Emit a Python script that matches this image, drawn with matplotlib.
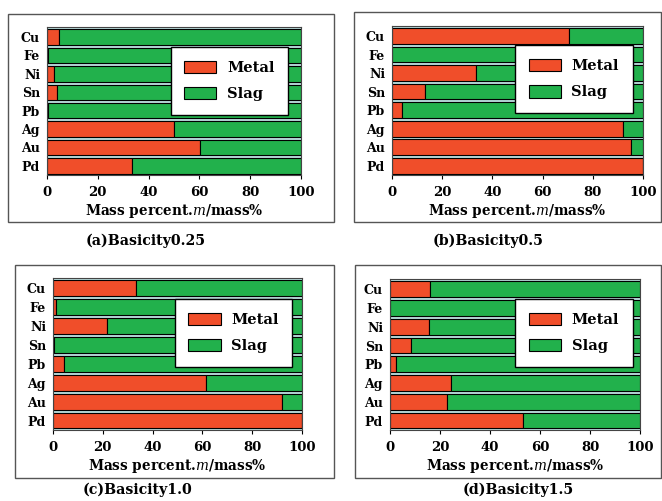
import matplotlib
matplotlib.use("Agg")
import matplotlib.pyplot as plt
from matplotlib.patches import Rectangle

plt.rcParams["font.family"] = "DejaVu Serif"
plt.rcParams["mathtext.fontset"] = "dejavuserif"

ELEMENTS = ["Cu", "Fe", "Ni", "Sn", "Pb", "Ag", "Au", "Pd"]

# metal fraction (mass%) per element, slag = 100 - metal
metal_025 = [4.6, 0.3, 2.9, 3.8, 0.3, 50.1, 60.1, 33.5]
metal_05 = [70.7, 0.0, 33.5, 13.2, 4.0, 91.9, 95.2, 100.0]
metal_10 = [33.3, 1.2, 21.6, 0.3, 4.4, 61.3, 92.0, 100.0]
metal_15 = [16.0, 0.0, 15.6, 8.4, 2.3, 24.4, 22.7, 53.1]

CAPTIONS = ["(a)Basicity0.25", "(b)Basicity0.5", "(c)Basicity1.0", "(d)Basicity1.5"]
X_TICKS = [0, 20, 40, 60, 80, 100]

RED = "#f04e2a"
GREEN = "#22b14c"

W, H = 662, 501


def px_rect(x0, y0, x1, y1):
    # pixel box (top-left origin) -> figure fraction [left, bottom, width, height]
    return [x0 / W, 1 - y1 / H, (x1 - x0) / W, (y1 - y0) / H]


panels = [
    # data, axes box, frame box, caption pos, legend corner (axes coords)
    (metal_025, (47, 27, 301, 175), (8, 14, 334, 222), (146, 241), (0.487, 0.865)),
    (metal_05, (392, 26, 643, 175), (354, 12, 661, 222), (488, 241), (0.49, 0.872)),
    (metal_10, (53, 278, 302, 430), (15, 265, 334, 478), (138, 490), (0.489, 0.862)),
    (metal_15, (390, 279, 640, 430), (355, 265, 661, 478), (518, 490), (0.501, 0.868)),
]

fig = plt.figure(figsize=(W / 100, H / 100), dpi=100)
fig.patch.set_facecolor("white")

for (metal, ax_box, frame, cap, leg), caption in zip(panels, CAPTIONS):
    fx0, fy0, fx1, fy1 = frame
    fig.patches.append(Rectangle((fx0 / W, 1 - fy1 / H), (fx1 - fx0) / W, (fy1 - fy0) / H,
                                 transform=fig.transFigure, fill=False,
                                 edgecolor="#555555", linewidth=1.0))

    ax = fig.add_axes(px_rect(*ax_box))
    ax.set_facecolor("#b9dcdc")
    ypos = list(range(len(ELEMENTS)))[::-1]
    slag = [100 - m for m in metal]
    ax.barh(ypos, metal, height=0.84, color=RED, edgecolor="black", linewidth=0.8, label="Metal")
    ax.barh(ypos, slag, left=metal, height=0.84, color=GREEN, edgecolor="black", linewidth=0.8,
            label="Slag")
    ax.set_xlim(0, 100)
    ax.set_ylim(-0.5, 7.55)
    ax.set_yticks(ypos)
    ax.set_yticklabels(ELEMENTS, fontsize=9, fontweight="bold")
    ax.set_xticks(X_TICKS)
    ax.set_xticklabels([str(t) for t in X_TICKS], fontsize=9.5, fontweight="bold")
    ax.tick_params(axis="y", length=0, pad=5)
    ax.tick_params(axis="x", length=3, direction="out", pad=5)
    ax.set_xlabel(r"Mass percent.$\it{m}$/mass%", fontsize=9.8, fontweight="bold", labelpad=2)
    for s in ax.spines.values():
        s.set_color("#444444")
        s.set_linewidth(0.8)

    ax.legend(loc="upper left", bbox_to_anchor=leg, prop={"weight": "bold", "size": 10.5},
              fancybox=False, framealpha=1, edgecolor="black", handlelength=2.2,
              handleheight=0.9, labelspacing=0.86, borderpad=0.94, handletextpad=0.73,
              borderaxespad=0)

    fig.text(cap[0] / W, 1 - cap[1] / H, caption, fontsize=10.2, fontweight="bold",
             ha="center", va="center")

fig.savefig("out.png", dpi=100)
